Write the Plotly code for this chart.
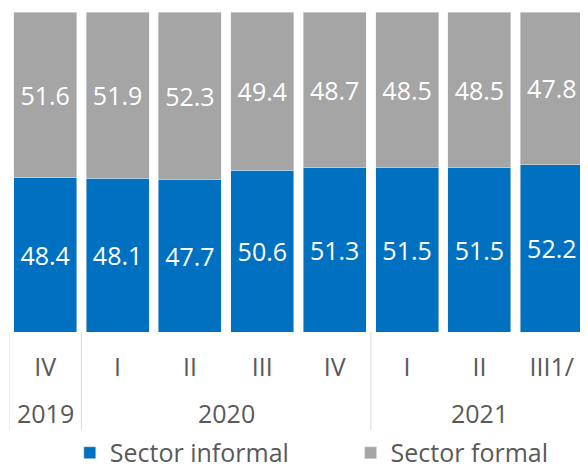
import plotly.graph_objects as go

years = ["2019", "2020", "2020", "2020", "2020", "2021", "2021", "2021"]
quarters = ["IV", "I", "II", "III", "IV", "I", "II", "III1/"]
informal = [48.4, 48.1, 47.7, 50.6, 51.3, 51.5, 51.5, 52.2]
formal = [51.6, 51.9, 52.3, 49.4, 48.7, 48.5, 48.5, 47.8]

FONT = "Open Sans"
TEXT = "#595959"
pos = list(range(len(quarters)))

fig = go.Figure()
fig.add_bar(
    x=pos, y=informal, name="Sector informal", marker_color="#0070C0",
    texttemplate="%{y:.1f}", textposition="inside", insidetextanchor="middle",
    textfont=dict(color="white", size=25, family=FONT), legend="legend",
)
fig.add_bar(
    x=pos, y=formal, name="Sector formal", marker_color="#A5A5A5",
    texttemplate="%{y:.1f}", textposition="inside", insidetextanchor="middle",
    textfont=dict(color="white", size=25, family=FONT), legend="legend2",
)

# year labels centred under their quarters, dividers between years
groups = {}
for i, y in enumerate(years):
    groups.setdefault(y, []).append(i)
for y, idx in groups.items():
    fig.add_annotation(
        x=sum(idx) / len(idx), y=-0.253, xref="x", yref="paper",
        text=y, showarrow=False, yanchor="middle",
        font=dict(size=25, color=TEXT, family=FONT),
    )
bounds = [-0.5] + [i - 0.5 for i in range(1, len(years)) if years[i] != years[i - 1]]
for b in bounds:
    fig.add_shape(
        type="line", x0=b, x1=b, y0=0, y1=-0.306, xref="x", yref="paper",
        line=dict(color="#D9D9D9", width=1),
    )

legend_style = dict(
    orientation="h", xanchor="left", y=-0.378, yanchor="middle",
    font=dict(size=25, color=TEXT, family=FONT),
)
fig.update_layout(
    barmode="stack",
    bargap=0.13,
    width=580,
    height=458,
    margin=dict(l=1, r=0, t=4, b=134, autoexpand=False),
    plot_bgcolor="white",
    paper_bgcolor="white",
    font=dict(family=FONT, size=25, color=TEXT),
    showlegend=True,
    legend=dict(x=0.105, **legend_style),
    legend2=dict(x=0.59, **legend_style),
    uniformtext=dict(mode="show", minsize=10),
)
fig.update_xaxes(
    tickmode="array", tickvals=pos, ticktext=quarters,
    range=[-0.5, len(pos) - 0.5],
    showline=False, showgrid=False, zeroline=False,
    ticks="", ticklabelstandoff=18,
    tickfont=dict(size=25, color=TEXT, family=FONT),
)
fig.update_yaxes(range=[0, 100], visible=False)

fig.write_html("out.html")
